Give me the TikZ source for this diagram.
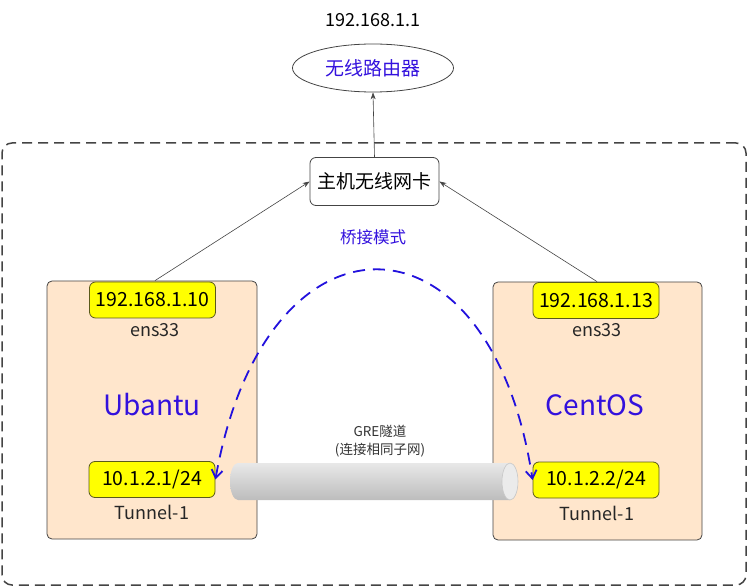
\documentclass[tikz,border=0pt]{standalone}
\usepackage{fontspec}
\setmainfont{Noto Sans CJK SC}
\usetikzlibrary{shapes.geometric,arrows.meta}
\definecolor{txtblue}{HTML}{3311DD}
\definecolor{arcblue}{HTML}{2211DD}
\definecolor{peach}{HTML}{FFE6CC}
\definecolor{edge}{HTML}{444444}
\definecolor{ipyellow}{HTML}{FFFF00}
\definecolor{ipedge}{HTML}{5A5A1A}
\newcommand{\fs}[1]{\fontsize{#1}{#1}\selectfont}
\tikzset{
  hostbox/.style={draw=edge, line width=0.8pt, fill=peach, rounded corners=5pt, minimum width=210pt, minimum height=258pt, inner sep=0pt},
  ipbox/.style={draw=ipedge, line width=0.8pt, fill=ipyellow, rounded corners=6pt, minimum width=126pt, minimum height=36pt, inner sep=0pt, font=\fs{19.5}},
  lbl/.style={font=\fs{18}, text=black!85, inner sep=0pt},
  osname/.style={font=\fs{28}, text=txtblue, inner sep=0pt},
  arr/.style={draw=edge, line width=0.6pt, -{Stealth[length=7pt,width=5pt]}},
  bluearc/.style={draw=arcblue, line width=1.8pt, dash pattern=on 12pt off 8pt, {Straight Barb[length=8pt,width=11pt]}-{Straight Barb[length=8pt,width=11pt]}}
}
\begin{document}
\begin{tikzpicture}[x=1pt,y=-1pt]
\useasboundingbox (0,0) rectangle (748,588);
% outer dashed frame
\node[draw=edge, line width=1.5pt, dash pattern=on 10pt off 6pt, rounded corners=10pt, minimum width=744pt, minimum height=442pt, inner sep=0pt] (frame) at (374,364) {};
% router
\node[font=\fs{18}, inner sep=0pt] (rip) at (373,20) {192.168.1.1};
\node[ellipse, draw=edge, line width=0.8pt, minimum width=161pt, minimum height=48pt, inner sep=0pt, font=\fs{19}, text=txtblue] (router) at (373,68) {无线路由器};
% NIC
\node[draw=edge, line width=0.8pt, fill=white, rounded corners=6pt, minimum width=129pt, minimum height=48pt, inner sep=0pt, font=\fs{19}] (nic) at (374.5,181.5) {主机无线网卡};
\node[font=\fs{16.5}, text=txtblue, inner sep=0pt] (bridge) at (373,237) {桥接模式};
% hosts
\node[hostbox] (ubu) at (152,410) {};
\node[hostbox, minimum width=209pt] (cen) at (597.5,411) {};
\node[ipbox] (ub1) at (152.5,300) {192.168.1.10};
\node[ipbox] (ub2) at (152,479.5) {10.1.2.1/24};
\node[ipbox] (ce1) at (596,300.5) {192.168.1.13};
\node[ipbox] (ce2) at (596,480) {10.1.2.2/24};
\node[lbl] (ubens) at (155,330) {ens33};
\node[lbl] (ceens) at (597,330) {ens33};
\node[osname] (ubname) at (152,405) {Ubantu};
\node[osname] (cename) at (595,405) {CentOS};
\node[lbl] (ubtun) at (152,512) {Tunnel-1};
\node[lbl] (cetun) at (597,513) {Tunnel-1};
% tunnel cylinder
\coordinate (tube) at (374,481.5);
\shade[top color=black!9, middle color=black!13, bottom color=black!26] (510,463) -- (238,463) arc[start angle=90,end angle=270,x radius=8pt,y radius=18.5pt] -- (510,500) arc[start angle=-90,end angle=90,x radius=8pt,y radius=18.5pt] -- cycle;
\filldraw[fill=black!8, draw=black!22, line width=0.6pt] (510,481.5) ellipse[x radius=8pt, y radius=18.5pt];
\node[font=\fontsize{13.5}{18}\selectfont, text=black!80, align=center, inner sep=0pt] (gre) at (380,441) {GRE隧道\\(连接相同子网)};
% connectors
\draw[arr] (nic.north) -- (router.south);
\draw[arr] (ubu.north -| 155,0) -- (nic.west);
\draw[arr] (cen.north -| 597,0) -- (nic.east);
\draw[bluearc] (ub2.east) .. controls (265,200) and (490,200) .. (ce2.west);
\end{tikzpicture}
\end{document}
